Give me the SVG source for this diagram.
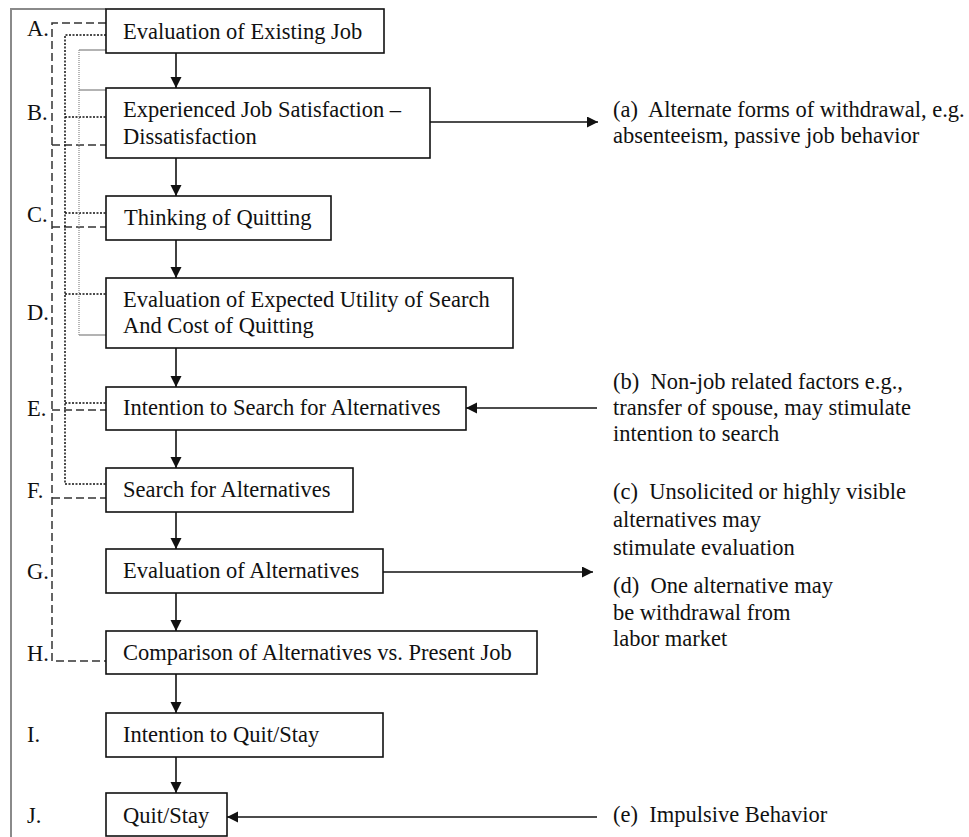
<svg xmlns="http://www.w3.org/2000/svg" width="969" height="837" viewBox="0 0 969 837">
<style>
text{font-family:"Liberation Serif","Times New Roman",serif;font-size:22.5px;fill:#111}
.box{fill:#fff;stroke:#111;stroke-width:1.6}
.arr{fill:none;stroke:#111;stroke-width:1.6}
.dash{fill:none;stroke:#333;stroke-width:1.5;stroke-dasharray:8 4}
.dot{fill:none;stroke:#111;stroke-width:1.5;stroke-dasharray:2 1.5}
.gray{fill:none;stroke:#9a9a9a;stroke-width:1.4}
.grayv{fill:none;stroke:#9a9a9a;stroke-width:1.4;stroke-dasharray:1 1}
.frame{fill:none;stroke:#8a8a8a;stroke-width:2}
</style>
<defs>
<marker id="ah" markerUnits="userSpaceOnUse" markerWidth="12" markerHeight="12" refX="11" refY="5.5" orient="auto">
<path d="M0,0 L11,5.5 L0,11 z" fill="#111"/>
</marker>
</defs>
<rect x="0" y="0" width="969" height="837" fill="#fff"/>
<path class="frame" d="M11,837 V9 H106"/>
<g id="labels">
<text x="27" y="36">A.</text>
<text x="27" y="120">B.</text>
<text x="27" y="222">C.</text>
<text x="27" y="320">D.</text>
<text x="27" y="416">E.</text>
<text x="27" y="498">F.</text>
<text x="27" y="579">G.</text>
<text x="27" y="661">H.</text>
<text x="27" y="742">I.</text>
<text x="27" y="823">J.</text>
</g>
<g id="connectors">
<path class="dash" d="M106,23 H52 V661 H106"/>
<path class="dash" d="M52,145 H106 M52,227 H106 M52,410 H106 M52,498 H106"/>
<path class="dot" d="M106,35 H65 V484 H106"/>
<path class="dot" d="M65,117 H106 M65,213 H106 M65,294 H106 M65,403 H106"/>
<path class="gray" d="M106,50 H79 M79,90 H106 M79,335 H106"/>
<path class="grayv" d="M79,50 V335"/>
<path class="arr" marker-end="url(#ah)" d="M176,53 V88"/>
<path class="arr" marker-end="url(#ah)" d="M176,158 V196"/>
<path class="arr" marker-end="url(#ah)" d="M176,240 V278"/>
<path class="arr" marker-end="url(#ah)" d="M176,348 V387"/>
<path class="arr" marker-end="url(#ah)" d="M176,430 V468"/>
<path class="arr" marker-end="url(#ah)" d="M176,512 V549"/>
<path class="arr" marker-end="url(#ah)" d="M176,593 V631"/>
<path class="arr" marker-end="url(#ah)" d="M176,674 V713"/>
<path class="arr" marker-end="url(#ah)" d="M176,757 V793"/>
<path class="arr" marker-end="url(#ah)" d="M430,122 H598"/>
<path class="arr" marker-end="url(#ah)" d="M597,408 H466"/>
<path class="arr" marker-end="url(#ah)" d="M383,572 H593"/>
<path class="arr" marker-end="url(#ah)" d="M597,817 H227"/>
</g>
<g id="nodeA"><rect class="box" x="106" y="9" width="278" height="44"/><text x="123" y="39">Evaluation of Existing Job</text></g>
<g id="nodeB"><rect class="box" x="106" y="88" width="324" height="70"/><text x="123" y="117">Experienced Job Satisfaction –</text><text x="123" y="144">Dissatisfaction</text></g>
<g id="nodeC"><rect class="box" x="106" y="196" width="225" height="44"/><text x="124" y="225">Thinking of Quitting</text></g>
<g id="nodeD"><rect class="box" x="106" y="278" width="407" height="70"/><text x="123" y="307">Evaluation of Expected Utility of Search</text><text x="123" y="333">And Cost of Quitting</text></g>
<g id="nodeE"><rect class="box" x="106" y="387" width="360" height="43"/><text x="123" y="415">Intention to Search for Alternatives</text></g>
<g id="nodeF"><rect class="box" x="106" y="468" width="247" height="44"/><text x="123" y="497">Search for Alternatives</text></g>
<g id="nodeG"><rect class="box" x="106" y="549" width="277" height="44"/><text x="123" y="578">Evaluation of Alternatives</text></g>
<g id="nodeH"><rect class="box" x="106" y="631" width="431" height="43"/><text x="123" y="660">Comparison of Alternatives vs. Present Job</text></g>
<g id="nodeI"><rect class="box" x="106" y="713" width="277" height="44"/><text x="123" y="742">Intention to Quit/Stay</text></g>
<g id="nodeJ"><rect class="box" x="106" y="793" width="121" height="43"/><text x="123" y="823">Quit/Stay</text></g>
<g id="noteA"><text x="613" y="117" xml:space="preserve">(a)  Alternate forms of withdrawal, e.g.</text><text x="613" y="143">absenteeism, passive job behavior</text></g>
<g id="noteB"><text x="613" y="389" xml:space="preserve">(b)  Non-job related factors e.g.,</text><text x="613" y="415">transfer of spouse, may stimulate</text><text x="613" y="441">intention to search</text></g>
<g id="noteC"><text x="613" y="499" xml:space="preserve">(c)  Unsolicited or highly visible</text><text x="613" y="527">alternatives may</text><text x="613" y="555">stimulate evaluation</text></g>
<g id="noteD"><text x="613" y="593" xml:space="preserve">(d)  One alternative may</text><text x="613" y="620">be withdrawal from</text><text x="613" y="646">labor market</text></g>
<g id="noteE"><text x="613" y="822" xml:space="preserve">(e)  Impulsive Behavior</text></g>
</svg>
